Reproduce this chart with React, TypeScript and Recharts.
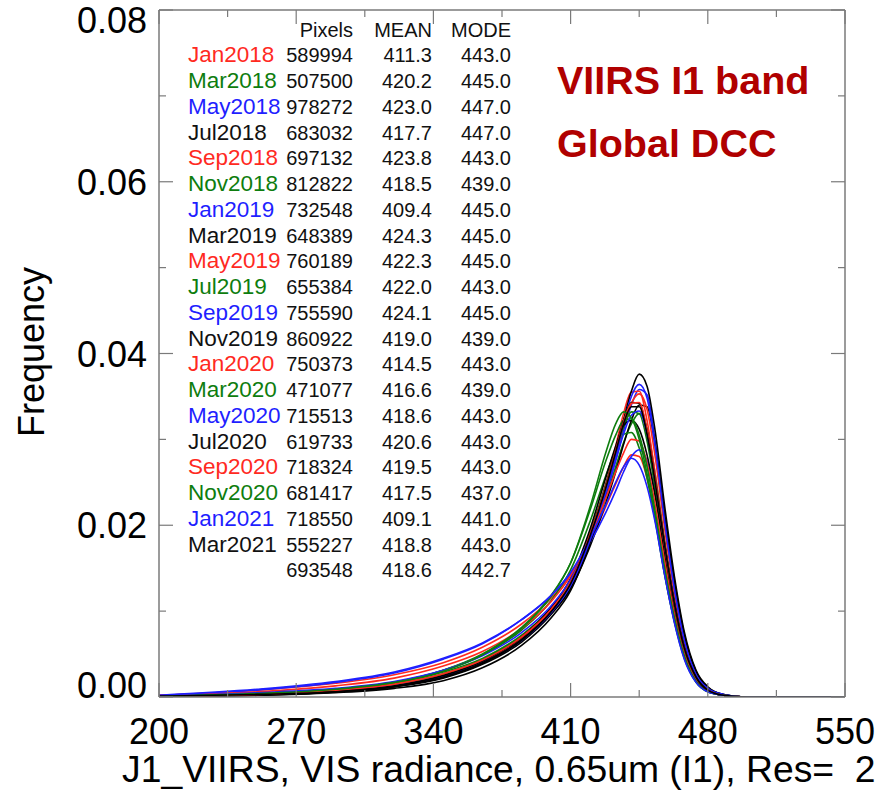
import { LineChart, Line, XAxis, YAxis } from "recharts";

// radiance bins (x) shared by every monthly histogram
const X_GRID = [200, 250, 290, 320, 345, 365, 385, 400, 410, 420, 428, 433, 437, 441, 445, 449, 453, 458, 463, 468, 474, 480, 488, 500, 550];

const JAN2018 = [0.0002, 0.0008, 0.0016, 0.0026, 0.004, 0.0058, 0.0085, 0.0115, 0.0142, 0.018, 0.0222, 0.0248, 0.0268, 0.0282, 0.028, 0.0255, 0.0212, 0.015, 0.0093, 0.005, 0.002, 0.0007, 0.0002, 0, 0];
const MAR2018 = [0.0001, 0.0004, 0.0009, 0.0016, 0.0029, 0.0045, 0.0072, 0.0103, 0.0135, 0.0183, 0.0232, 0.0268, 0.0296, 0.0318, 0.033, 0.0312, 0.0262, 0.0182, 0.0112, 0.006, 0.0024, 0.0009, 0.0002, 0, 0];
const MAY2018 = [0.0001, 0.0003, 0.0007, 0.0013, 0.0024, 0.004, 0.0066, 0.0097, 0.0128, 0.018, 0.0235, 0.0275, 0.031, 0.034, 0.0358, 0.0352, 0.03, 0.021, 0.013, 0.0068, 0.0027, 0.001, 0.0003, 0, 0];
const JUL2018 = [0.0001, 0.0003, 0.0006, 0.0012, 0.0022, 0.0038, 0.0064, 0.0096, 0.0126, 0.0176, 0.0226, 0.0262, 0.0294, 0.0322, 0.034, 0.0338, 0.0295, 0.0212, 0.0135, 0.0073, 0.003, 0.0011, 0.0003, 0, 0];
const SEP2018 = [0.0001, 0.0003, 0.0008, 0.0014, 0.0025, 0.0041, 0.0068, 0.01, 0.0132, 0.0188, 0.0248, 0.0292, 0.033, 0.0355, 0.0356, 0.0322, 0.0262, 0.0178, 0.0108, 0.0057, 0.0022, 0.0008, 0.0002, 0, 0];
const NOV2018 = [0.0001, 0.0004, 0.0009, 0.0017, 0.0031, 0.0049, 0.0078, 0.0112, 0.0148, 0.0205, 0.0258, 0.0288, 0.0306, 0.0308, 0.029, 0.0255, 0.0208, 0.0142, 0.0088, 0.0047, 0.0018, 0.0006, 0.0002, 0, 0];
const JAN2019 = [0.0002, 0.0008, 0.0017, 0.0028, 0.0044, 0.0062, 0.009, 0.0118, 0.0144, 0.018, 0.0215, 0.024, 0.0262, 0.028, 0.0288, 0.0275, 0.0238, 0.0172, 0.0108, 0.0058, 0.0023, 0.0008, 0.0002, 0, 0];
const MAR2019 = [0, 0.0002, 0.0005, 0.001, 0.0019, 0.0034, 0.006, 0.0092, 0.0124, 0.018, 0.0238, 0.0282, 0.0322, 0.0356, 0.0376, 0.0362, 0.0312, 0.0222, 0.014, 0.0076, 0.0031, 0.0012, 0.0003, 0, 0];
const MAY2019 = [0.0001, 0.0003, 0.0008, 0.0014, 0.0026, 0.0042, 0.0069, 0.0101, 0.0133, 0.0186, 0.024, 0.028, 0.0316, 0.0342, 0.0353, 0.0335, 0.0282, 0.0196, 0.012, 0.0063, 0.0025, 0.0009, 0.0002, 0, 0];
const JUL2019 = [0.0001, 0.0003, 0.0008, 0.0015, 0.0027, 0.0044, 0.0071, 0.0104, 0.0137, 0.0192, 0.0248, 0.0286, 0.0314, 0.0332, 0.033, 0.0298, 0.0244, 0.0166, 0.01, 0.0052, 0.002, 0.0007, 0.0002, 0, 0];
const SEP2019 = [0.0001, 0.0003, 0.0007, 0.0013, 0.0024, 0.004, 0.0066, 0.0098, 0.013, 0.0183, 0.0238, 0.028, 0.0318, 0.035, 0.0364, 0.0348, 0.0294, 0.0204, 0.0125, 0.0066, 0.0026, 0.001, 0.0003, 0, 0];
const NOV2019 = [0.0001, 0.0003, 0.0007, 0.0013, 0.0025, 0.0042, 0.007, 0.0104, 0.0138, 0.0196, 0.0256, 0.0292, 0.0316, 0.0322, 0.0312, 0.0282, 0.0236, 0.0166, 0.0102, 0.0054, 0.0021, 0.0008, 0.0002, 0, 0];
const JAN2020 = [0.0002, 0.0006, 0.0013, 0.0022, 0.0036, 0.0053, 0.008, 0.0111, 0.0141, 0.0186, 0.0232, 0.0262, 0.0284, 0.03, 0.0298, 0.0272, 0.0226, 0.0158, 0.0096, 0.005, 0.002, 0.0007, 0.0002, 0, 0];
const MAR2020 = [0.0001, 0.0004, 0.0009, 0.0017, 0.0031, 0.005, 0.0081, 0.0118, 0.0156, 0.0218, 0.0275, 0.0305, 0.0322, 0.0324, 0.0305, 0.0268, 0.0218, 0.015, 0.0092, 0.0048, 0.0019, 0.0007, 0.0002, 0, 0];
const MAY2020 = [0.0001, 0.0005, 0.001, 0.0018, 0.0031, 0.0048, 0.0075, 0.0106, 0.0137, 0.0188, 0.024, 0.0276, 0.0306, 0.0328, 0.0333, 0.0306, 0.0254, 0.0176, 0.0108, 0.0057, 0.0022, 0.0008, 0.0002, 0, 0];
const JUL2020 = [0, 0.0002, 0.0006, 0.0012, 0.0023, 0.004, 0.0067, 0.01, 0.0133, 0.019, 0.0246, 0.0288, 0.0322, 0.0343, 0.0342, 0.031, 0.0256, 0.0178, 0.011, 0.0058, 0.0023, 0.0008, 0.0002, 0, 0];
const SEP2020 = [0.0001, 0.0003, 0.0008, 0.0015, 0.0027, 0.0043, 0.007, 0.0102, 0.0134, 0.019, 0.0246, 0.0287, 0.032, 0.0342, 0.0343, 0.031, 0.0255, 0.0176, 0.0107, 0.0056, 0.0022, 0.0008, 0.0002, 0, 0];
const NOV2020 = [0.0001, 0.0004, 0.0009, 0.0017, 0.003, 0.0049, 0.008, 0.0117, 0.0156, 0.0222, 0.0285, 0.0318, 0.0332, 0.0325, 0.03, 0.026, 0.021, 0.0143, 0.0087, 0.0045, 0.0017, 0.0006, 0.0002, 0, 0];
const JAN2021 = [0.0002, 0.0009, 0.0018, 0.0029, 0.0045, 0.0063, 0.009, 0.0118, 0.0145, 0.0185, 0.0224, 0.025, 0.0268, 0.0278, 0.027, 0.0245, 0.0205, 0.0142, 0.0086, 0.0044, 0.0017, 0.0006, 0.0002, 0, 0];
const MAR2021 = [0.0001, 0.0003, 0.0006, 0.0012, 0.0023, 0.0039, 0.0066, 0.0099, 0.0132, 0.0188, 0.0244, 0.0285, 0.0318, 0.0338, 0.0338, 0.0306, 0.0252, 0.0176, 0.0108, 0.0057, 0.0023, 0.0008, 0.0002, 0, 0];

const MONTHS = ["Jan2018", "Mar2018", "May2018", "Jul2018", "Sep2018", "Nov2018", "Jan2019", "Mar2019", "May2019", "Jul2019", "Sep2019", "Nov2019", "Jan2020", "Mar2020", "May2020", "Jul2020", "Sep2020", "Nov2020", "Jan2021", "Mar2021"];
const CURVES = [JAN2018, MAR2018, MAY2018, JUL2018, SEP2018, NOV2018, JAN2019, MAR2019, MAY2019, JUL2019, SEP2019, NOV2019, JAN2020, MAR2020, MAY2020, JUL2020, SEP2020, NOV2020, JAN2021, MAR2021];
const PIXELS = [589994, 507500, 978272, 683032, 697132, 812822, 732548, 648389, 760189, 655384, 755590, 860922, 750373, 471077, 715513, 619733, 718324, 681417, 718550, 555227];
const MEANS = [411.3, 420.2, 423.0, 417.7, 423.8, 418.5, 409.4, 424.3, 422.3, 422.0, 424.1, 419.0, 414.5, 416.6, 418.6, 420.6, 419.5, 417.5, 409.1, 418.8];
const MODES = [443.0, 445.0, 447.0, 447.0, 443.0, 439.0, 445.0, 445.0, 445.0, 443.0, 445.0, 439.0, 443.0, 439.0, 443.0, 443.0, 443.0, 437.0, 441.0, 443.0];
const TOTAL_PIXELS = 693548;
const TOTAL_MEAN = 418.6;
const TOTAL_MODE = 442.7;

const X_TICKS = [200, 235, 270, 305, 340, 375, 410, 445, 480, 515, 550];
const Y_TICKS = [0, 0.01, 0.02, 0.03, 0.04, 0.05, 0.06, 0.07, 0.08];

const PALETTE = ["#ff2a1f", "#0e7d0e", "#1f1fff", "#000000"];
const FONT = "'Liberation Sans', Arial, Helvetica, sans-serif";
const AXIS = "#7a7a7a";

const rows = X_GRID.map((x, i) => {
  const r: Record<string, number> = { x };
  MONTHS.forEach((m, k) => {
    r[m] = CURVES[k][i];
  });
  return r;
});

const isMajorX = (v: number) => (v - 200) % 70 === 0;
const isMajorY = (v: number) => Math.round(v * 100) % 2 === 0;

function BottomTick(props: any) {
  const { x, y, payload } = props;
  const v = payload.value;
  const len = isMajorX(v) ? 14 : 7;
  return (
    <g>
      <line x1={x} x2={x} y1={y} y2={y - len} stroke={AXIS} strokeWidth={1.2} />
      {isMajorX(v) && (
        <text x={x} y={y + 47} textAnchor="middle" fontSize={36} fontFamily={FONT} fill="#000">
          {v}
        </text>
      )}
    </g>
  );
}

function TopTick(props: any) {
  const { x, y, payload } = props;
  const len = isMajorX(payload.value) ? 14 : 7;
  return <line x1={x} x2={x} y1={y} y2={y + len} stroke={AXIS} strokeWidth={1.2} />;
}

function LeftTick(props: any) {
  const { x, y, payload } = props;
  const v = payload.value;
  const major = isMajorY(v);
  let shift = 0;
  if (v >= 0.08) shift = 10;
  if (v <= 0) shift = -12;
  return (
    <g>
      <line x1={x} x2={x + (major ? 14 : 7)} y1={y} y2={y} stroke={AXIS} strokeWidth={1.2} />
      {major && (
        <text x={x - 12} y={y + shift + 13} textAnchor="end" fontSize={36} fontFamily={FONT} fill="#000">
          {v.toFixed(2)}
        </text>
      )}
    </g>
  );
}

function RightTick(props: any) {
  const { x, y, payload } = props;
  const len = isMajorY(payload.value) ? 14 : 7;
  return <line x1={x} x2={x - len} y1={y} y2={y} stroke={AXIS} strokeWidth={1.2} />;
}

function StatsTable() {
  const top = 62.3;
  const step = 25.75;
  const num = { fontSize: 20, fontFamily: FONT, fill: "#111" };
  return (
    <g>
      <text x={353} y={36.5} textAnchor="end" {...num}>Pixels</text>
      <text x={432} y={36.5} textAnchor="end" {...num}>MEAN</text>
      <text x={511} y={36.5} textAnchor="end" {...num}>MODE</text>
      {MONTHS.map((m, i) => {
        const y = top + i * step;
        return (
          <g key={m}>
            <text x={188} y={y} fontSize={22.5} fontFamily={FONT} fill={PALETTE[i % 4] === "#000000" ? "#111" : PALETTE[i % 4]}>
              {m}
            </text>
            <text x={353} y={y} textAnchor="end" {...num}>{PIXELS[i]}</text>
            <text x={432} y={y} textAnchor="end" {...num}>{MEANS[i].toFixed(1)}</text>
            <text x={511} y={y} textAnchor="end" {...num}>{MODES[i].toFixed(1)}</text>
          </g>
        );
      })}
      <text x={353} y={top + 20 * step} textAnchor="end" {...num}>{TOTAL_PIXELS}</text>
      <text x={432} y={top + 20 * step} textAnchor="end" {...num}>{TOTAL_MEAN.toFixed(1)}</text>
      <text x={511} y={top + 20 * step} textAnchor="end" {...num}>{TOTAL_MODE.toFixed(1)}</text>
    </g>
  );
}

export default function App() {
  return (
    <div style={{ position: "absolute", left: 0, top: 0, width: 884, height: 793, background: "#fff" }}>
      <LineChart width={884} height={793} data={rows} margin={{ top: 0, right: 0, bottom: 0, left: 0 }}>
        <XAxis
          xAxisId="b"
          type="number"
          dataKey="x"
          domain={[200, 550]}
          ticks={X_TICKS}
          interval={0}
          height={96}
          tickSize={0}
          tickMargin={0}
          tickLine={false}
          axisLine={{ stroke: AXIS, strokeWidth: 1.5 }}
          tick={<BottomTick />}
          allowDataOverflow
        />
        <XAxis
          xAxisId="t"
          orientation="top"
          type="number"
          dataKey="x"
          domain={[200, 550]}
          ticks={X_TICKS}
          interval={0}
          height={10}
          tickSize={0}
          tickMargin={0}
          tickLine={false}
          axisLine={{ stroke: AXIS, strokeWidth: 1.5 }}
          tick={<TopTick />}
          allowDataOverflow
        />
        <YAxis
          yAxisId="l"
          type="number"
          domain={[0, 0.08]}
          ticks={Y_TICKS}
          interval={0}
          width={159}
          tickSize={0}
          tickMargin={0}
          tickLine={false}
          axisLine={{ stroke: AXIS, strokeWidth: 1.5 }}
          tick={<LeftTick />}
          allowDataOverflow
        />
        <YAxis
          yAxisId="r"
          orientation="right"
          type="number"
          domain={[0, 0.08]}
          ticks={Y_TICKS}
          interval={0}
          width={39}
          tickSize={0}
          tickMargin={0}
          tickLine={false}
          axisLine={{ stroke: AXIS, strokeWidth: 1.5 }}
          tick={<RightTick />}
          allowDataOverflow
        />
        {MONTHS.map((m, k) => (
          <Line
            key={m}
            xAxisId="b"
            yAxisId="l"
            dataKey={m}
            type="monotone"
            stroke={PALETTE[k % 4]}
            strokeWidth={1.6}
            dot={false}
            activeDot={false}
            isAnimationActive={false}
          />
        ))}
      </LineChart>
      <svg width={884} height={793} style={{ position: "absolute", left: 0, top: 0, pointerEvents: "none" }}>
        <StatsTable />
        <text x={557} y={94} fontSize={39.5} fontWeight="bold" fontFamily={FONT} fill="#b00000">VIIRS I1 band</text>
        <text x={557} y={157} fontSize={39.5} fontWeight="bold" fontFamily={FONT} fill="#b00000">Global DCC</text>
        <text x={44} y={352} transform="rotate(-90 44 352)" textAnchor="middle" fontSize={36} fontFamily={FONT} fill="#000">
          Frequency
        </text>
        <text x={122} y={782} fontSize={37.3} fontFamily={FONT} fill="#000" style={{ whiteSpace: "pre" }}>
          {"J1_VIIRS, VIS radiance, 0.65um (I1), Res=  2"}
        </text>
      </svg>
    </div>
  );
}
